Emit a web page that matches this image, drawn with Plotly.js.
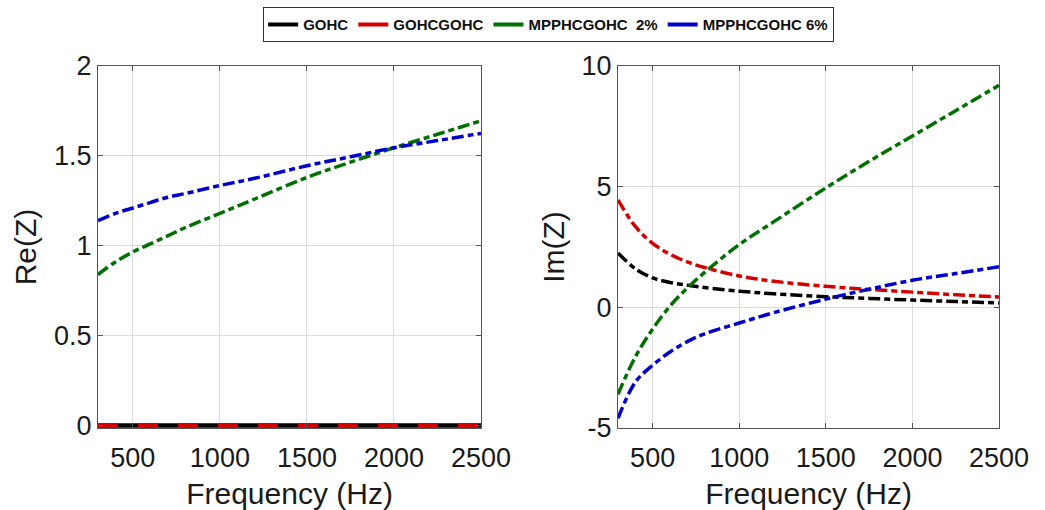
<!DOCTYPE html>
<html>
<head>
<meta charset="utf-8">
<script src="https://cdn.plot.ly/plotly-3.0.1.min.js"></script>
<style>html,body{margin:0;padding:0;background:#fff;}#chart{width:1045px;height:510px;}</style>
</head>
<body>
<div id="chart"></div>
<script>
const freq = [300, 400, 500, 600, 700, 800, 1000, 1200, 1500, 1750, 2000, 2250, 2500];
const seriesNames = ["GOHC", "GOHCGOHC", "MPPHCGOHC  2%", "MPPHCGOHC 6%"];
const seriesColors = ["#000000", "#d40000", "#007000", "#0000cc"];

const reGOHC      = [0, 0, 0, 0, 0, 0, 0, 0, 0, 0, 0, 0, 0];
const reGOHCGOHC  = [0, 0, 0, 0, 0, 0, 0, 0, 0, 0, 0, 0, 0];
const reMPP2      = [0.84, 0.91, 0.965, 1.01, 1.055, 1.10, 1.18, 1.26, 1.38, 1.465, 1.545, 1.62, 1.695];
const reMPP6      = [1.14, 1.18, 1.21, 1.24, 1.27, 1.29, 1.335, 1.375, 1.445, 1.495, 1.545, 1.585, 1.625];

const imGOHC      = [2.25, 1.6, 1.22, 1.03, 0.92, 0.82, 0.67, 0.56, 0.44, 0.37, 0.3, 0.24, 0.18];
const imGOHCGOHC  = [4.45, 3.35, 2.65, 2.2, 1.88, 1.65, 1.3, 1.08, 0.87, 0.74, 0.63, 0.52, 0.43];
const imMPP2      = [-3.6, -2.05, -0.9, 0.05, 0.8, 1.45, 2.6, 3.55, 4.95, 6.05, 7.1, 8.15, 9.2];
const imMPP6      = [-4.6, -3.1, -2.4, -1.85, -1.42, -1.1, -0.65, -0.22, 0.34, 0.75, 1.12, 1.4, 1.68];

const xTickVals = [500, 1000, 1500, 2000, 2500];
const reTickVals = [0, 0.5, 1, 1.5, 2];
const imTickVals = [-5, 0, 5, 10];

const DASH = "12px,4px,6px,4px";
const LW = 3.5;

function tr(y, idx, xa, ya, dash, w) {
  return {
    x: freq, y: y, type: "scatter", mode: "lines",
    name: seriesNames[idx], legendgroup: seriesNames[idx], showlegend: false,
    xaxis: xa, yaxis: ya,
    line: {color: seriesColors[idx], width: w || LW, dash: dash || DASH, shape: "spline"}
  };
}
function legendEntry(idx) {
  return {
    x: [null], y: [null], type: "scatter", mode: "lines",
    name: seriesNames[idx], legendgroup: seriesNames[idx], showlegend: true,
    xaxis: "x", yaxis: "y",
    line: {color: seriesColors[idx], width: 4, dash: "solid"}
  };
}

const data = [
  tr(reGOHC, 0, "x", "y", "solid", 4.5),
  tr(reGOHCGOHC, 1, "x", "y", "20px,20px", 4.5),
  tr(reMPP2, 2, "x", "y"),
  tr(reMPP6, 3, "x", "y"),
  tr(imGOHC, 0, "x2", "y2"),
  tr(imGOHCGOHC, 1, "x2", "y2"),
  tr(imMPP2, 2, "x2", "y2"),
  tr(imMPP6, 3, "x2", "y2"),
  legendEntry(0), legendEntry(1), legendEntry(2), legendEntry(3)
];

const axFont = {family: "Liberation Sans, Arial, sans-serif", size: 27, color: "#1a1a1a"};
const titleFont = {family: "Liberation Sans, Arial, sans-serif", size: 30, color: "#1a1a1a"};

function xax(domain, anchor) {
  return {
    domain: domain, anchor: anchor, range: [300, 2500],
    tickvals: xTickVals, ticktext: xTickVals.map(String),
    showgrid: true, gridcolor: "#dcdcdc", gridwidth: 1,
    showline: true, linecolor: "#555", linewidth: 1, mirror: "ticks",
    ticks: "inside", ticklen: 5, tickcolor: "#555",
    zeroline: false, tickfont: axFont, ticklabelstandoff: 6,
    title: {text: "Frequency (Hz)", font: titleFont, standoff: 10}
  };
}
function yax(domain, anchor, range, tv, title) {
  return {
    domain: domain, anchor: anchor, range: range,
    tickvals: tv, ticktext: tv.map(String),
    showgrid: true, gridcolor: "#dcdcdc", gridwidth: 1,
    showline: true, linecolor: "#555", linewidth: 1, mirror: "ticks",
    ticks: "inside", ticklen: 5, tickcolor: "#555",
    zeroline: false, tickfont: axFont,
    title: {text: title, font: titleFont, standoff: 8}
  };
}

const layout = {
  width: 1045, height: 510,
  margin: {l: 0, r: 0, t: 0, b: 0},
  paper_bgcolor: "#fff", plot_bgcolor: "#fff",
  showlegend: true,
  legend: {
    orientation: "h", x: 0.525, xanchor: "center", y: 0.986, yanchor: "top",
    bordercolor: "#333", borderwidth: 1, bgcolor: "#fff",
    font: {family: "Liberation Sans, Arial, sans-serif", size: 15, color: "#111", weight: "bold"},
    itemwidth: 30
  },
  xaxis: xax([0.0938, 0.4603], "y"),
  yaxis: yax([0.1608, 0.8706], "x", [-0.014, 2], reTickVals, "Re(Z)"),
  xaxis2: xax([0.5914, 0.956], "y2"),
  yaxis2: yax([0.1608, 0.8706], "x2", [-5, 10], imTickVals, "Im(Z)")
};

Plotly.newPlot("chart", data, layout, {displayModeBar: false, staticPlot: true});
</script>
</body>
</html>
